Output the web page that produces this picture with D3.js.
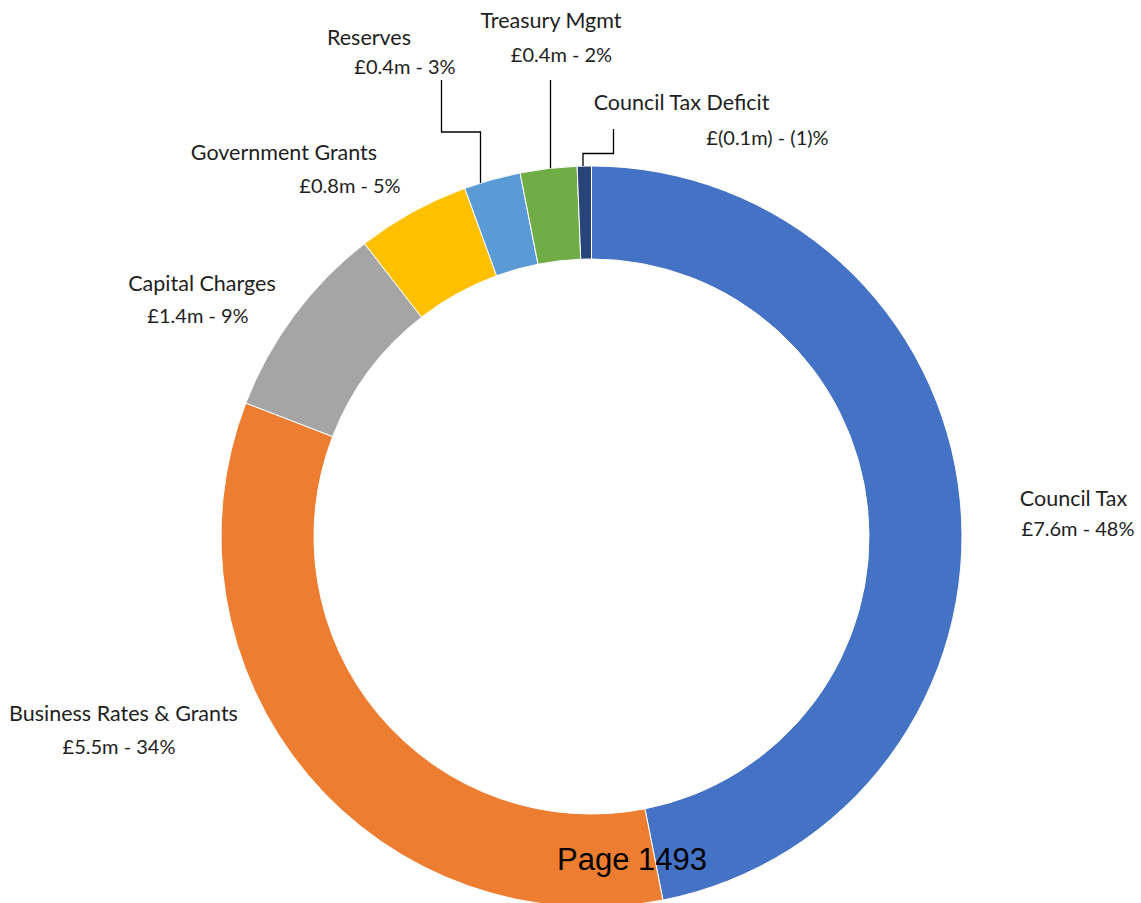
<!DOCTYPE html>
<html>
<head>
<meta charset="utf-8">
<script src="https://cdn.jsdelivr.net/npm/d3@7"></script>
<style>
  html, body { margin: 0; padding: 0; background: #fff; }
  svg { display: block; }
  .lbl { font-family: Lato, "Open Sans", sans-serif; fill: #1e1e1e; }
</style>
</head>
<body>
<svg id="chart" width="1141" height="903"></svg>
<script>
// Funding sources (£m); the deficit is a negative contribution
const categories = ["Council Tax", "Business Rates & Grants", "Capital Charges",
  "Government Grants", "Reserves", "Treasury Mgmt", "Council Tax Deficit"];
const amounts = [7.6, 5.5, 1.4, 0.8, 0.4, 0.4, -0.1];
const percents = [48, 34, 9, 5, 3, 2, -1];
const colors = ["#4472C4", "#ED7D31", "#A5A5A5", "#FFC000", "#5B9BD5", "#70AD47", "#264478"];

// Label placement: centre x of each line and the two baselines
const labelLayout = [
  { x1: 1073.5, x2: 1078, y1: 506, y2: 536 },
  { x1: 123.5, x2: 119, y1: 721, y2: 754 },
  { x1: 202, x2: 198, y1: 291, y2: 323 },
  { x1: 284, x2: 350, y1: 160, y2: 193 },
  { x1: 369, x2: 405, y1: 45, y2: 74 },
  { x1: 551, x2: 561.5, y1: 28, y2: 62 },
  { x1: 681.5, x2: 767.5, y1: 110, y2: 145 }
];
// Leader lines: elbow points, last segment drops vertically onto the ring
const leaderLayout = [
  null, null, null, null,
  [[441.5, 80], [441.5, 132], [480.5, 132]],
  [[550.5, 80]],
  [[613.5, 129], [613.5, 153.5], [583, 153.5]]
];

const svg = d3.select("#chart");
const cx = 591.5, cy = 536.5, outerR = 370.5, innerR = 277.5;

const fmtMoney = v => v < 0 ? `£(${Math.abs(v)}m)` : `£${v}m`;
const fmtPct = p => p < 0 ? `(${Math.abs(p)})%` : `${p}%`;

const pie = d3.pie().sort(null).value(d => Math.abs(d.amount));
const arc = d3.arc().innerRadius(innerR).outerRadius(outerR);

const data = categories.map((c, i) => ({ name: c, amount: amounts[i], pct: percents[i], color: colors[i], i }));
const arcs = pie(data);

const g = svg.append("g").attr("transform", `translate(${cx},${cy})`);
g.selectAll("path.slice")
  .data(arcs)
  .join("path")
  .attr("class", "slice")
  .attr("d", arc)
  .attr("fill", d => d.data.color)
  .attr("stroke", "#fff")
  .attr("stroke-width", 1);

// Leader lines
arcs.forEach((a, i) => {
  const pts = leaderLayout[i];
  if (!pts) return;
  const last = pts[pts.length - 1];
  const dx = last[0] - cx;
  const yEdge = cy - Math.sqrt(outerR * outerR - dx * dx);
  const all = pts.concat([[last[0], yEdge]]);
  svg.append("path")
    .attr("d", d3.line()(all))
    .attr("fill", "none")
    .attr("stroke", "#000")
    .attr("stroke-width", 1.3);
});

// Labels: category name, then value and share
data.forEach((d, i) => {
  const L = labelLayout[i];
  svg.append("text").attr("class", "lbl")
    .attr("x", L.x1).attr("y", L.y1)
    .attr("text-anchor", "middle")
    .style("font-size", "21.5px")
    .text(d.name);
  svg.append("text").attr("class", "lbl")
    .attr("x", L.x2).attr("y", L.y2)
    .attr("text-anchor", "middle")
    .style("font-size", "20px")
    .text(`${fmtMoney(d.amount)} - ${fmtPct(d.pct)}`);
});

// Page footer stamped over the chart
svg.append("text")
  .attr("x", 557).attr("y", 870)
  .style("font-family", "Liberation Sans, Arial, sans-serif")
  .style("font-size", "31px")
  .attr("fill", "#000")
  .text("Page 1493");
</script>
</body>
</html>
